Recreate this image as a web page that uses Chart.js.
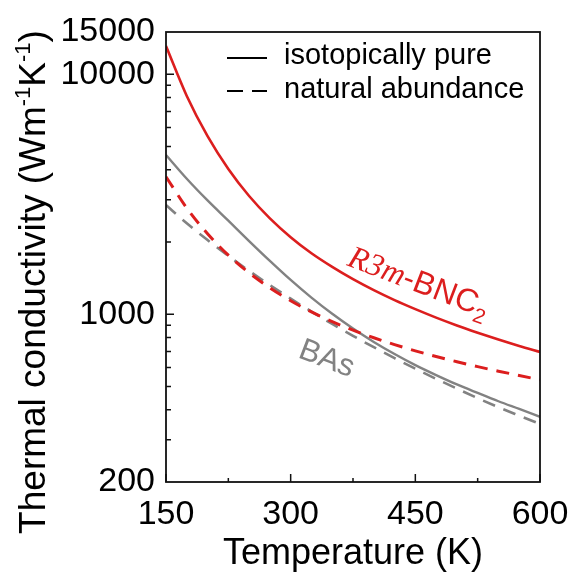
<!DOCTYPE html>
<html>
<head>
<meta charset="utf-8">
<script src="https://cdn.jsdelivr.net/npm/chart.js@4/dist/chart.umd.min.js"></script>
<style>
    html, body { margin: 0; padding: 0; background: #fff; }
    #wrap { width: 576px; height: 579px; }
</style>
</head>
<body>
<div id="wrap"><canvas id="kappaChart" width="576" height="579"></canvas></div>
<script>
// temperatures (K) and thermal conductivity (W m^-1 K^-1)
const temperatures = [150, 175, 200, 225, 250, 275, 300, 325, 350, 375, 400, 425, 450, 475, 500, 525, 550, 575, 600];
const bnc2Pure    = [13100, 8120, 5520, 4030, 3110, 2510, 2095, 1795, 1575, 1400, 1260, 1145, 1050, 968, 898, 838, 785, 738, 697];
const bnc2Natural = [3740, 2770, 2165, 1762, 1487, 1289, 1139, 1023, 932, 858, 798, 747, 704, 667, 634, 605, 579, 556, 533];
const basPure     = [4610, 3670, 2980, 2454, 2019, 1669, 1390, 1173, 1004, 872, 767, 683, 614, 558, 510, 470, 434, 403, 374];
const basNatural  = [2850, 2394, 2037, 1750, 1516, 1323, 1162, 1026, 911, 813, 729, 656, 593, 538, 490, 447, 410, 378, 349];

const xTickLabels = [150, 300, 450, 600];
const yTickLabels = [200, 1000, 10000, 15000];
const xMinorTicks = [225, 375, 525];

const RED = '#dc1e1e';
const GREY = '#828282';
const FONT = "'Liberation Sans', Arial, sans-serif";

Chart.defaults.font.family = FONT;
Chart.defaults.color = '#000';

function pairs(values) {
    return temperatures.map((t, i) => ({ x: t, y: values[i] }));
}

// frame, inward ticks, legend, labels and y title
const decorations = {
    id: 'decorations',
    afterDraw(chart) {
        const ctx = chart.ctx;
        const area = chart.chartArea;
        const xs = chart.scales.x;
        const ys = chart.scales.y;

        ctx.save();
        ctx.strokeStyle = '#111';
        ctx.lineWidth = 1.8;
        ctx.strokeRect(area.left, area.top, area.right - area.left, area.bottom - area.top);

        // y ticks: majors at decades, minors in between
        ctx.lineWidth = 1.5;
        ctx.beginPath();
        [1000, 10000].forEach(v => {
            const y = ys.getPixelForValue(v);
            ctx.moveTo(area.left, y); ctx.lineTo(area.left + 8, y);
        });
        [100, 1000].forEach(dec => {
            for (let k = 2; k <= 9; k++) {
                const v = dec * k;
                if (v <= 200) continue;
                const y = ys.getPixelForValue(v);
                ctx.moveTo(area.left, y); ctx.lineTo(area.left + 5, y);
            }
        });
        // x ticks
        xTickLabels.forEach(v => {
            const x = xs.getPixelForValue(v);
            ctx.moveTo(x, area.bottom); ctx.lineTo(x, area.bottom - 8);
        });
        xMinorTicks.forEach(v => {
            const x = xs.getPixelForValue(v);
            ctx.moveTo(x, area.bottom); ctx.lineTo(x, area.bottom - 4);
        });
        ctx.stroke();

        // legend
        ctx.strokeStyle = '#000';
        ctx.lineWidth = 2;
        ctx.beginPath();
        ctx.moveTo(227, 58); ctx.lineTo(267, 58);
        ctx.moveTo(227, 91); ctx.lineTo(243, 91);
        ctx.moveTo(252, 91); ctx.lineTo(267, 91);
        ctx.stroke();
        ctx.fillStyle = '#000';
        ctx.font = '29px ' + FONT;
        ctx.textBaseline = 'alphabetic';
        ctx.textAlign = 'left';
        ctx.fillText('isotopically pure', 284, 64);
        ctx.fillText('natural abundance', 284, 98);

        // R3m-BNC2 label
        ctx.save();
        ctx.translate(346, 265);
        ctx.rotate(21 * Math.PI / 180);
        ctx.fillStyle = RED;
        let x = 0;
        ctx.font = "italic 32px 'Liberation Serif', 'Times New Roman', serif";
        ctx.fillText('R3m', x, 0);
        x += ctx.measureText('R3m').width;
        ctx.font = '32px ' + FONT;
        ctx.fillText('-BNC', x, 0);
        x += ctx.measureText('-BNC').width;
        ctx.font = '21px ' + FONT;
        ctx.fillText('2', x, 7);
        ctx.restore();

        // BAs label
        ctx.save();
        ctx.translate(297, 357);
        ctx.rotate(21 * Math.PI / 180);
        ctx.fillStyle = GREY;
        ctx.font = '31px ' + FONT;
        ctx.fillText('BAs', 0, 0);
        ctx.restore();

        // y axis title with superscripts
        const parts = [
            ['Thermal conductivity (Wm', false],
            ['-1', true],
            ['K', false],
            ['-1', true],
            [')', false]
        ];
        const big = '37px ' + FONT;
        const small = '22px ' + FONT;
        let total = 0;
        parts.forEach(p => { ctx.font = p[1] ? small : big; total += ctx.measureText(p[0]).width; });
        ctx.save();
        ctx.translate(45, 282);
        ctx.rotate(-Math.PI / 2);
        ctx.fillStyle = '#000';
        let px = -total / 2;
        parts.forEach(p => {
            ctx.font = p[1] ? small : big;
            ctx.fillText(p[0], px, p[1] ? -15 : 0);
            px += ctx.measureText(p[0]).width;
        });
        ctx.restore();

        ctx.restore();
    }
};

new Chart(document.getElementById('kappaChart').getContext('2d'), {
    type: 'line',
    data: {
        datasets: [{
            label: 'R3m-BNC2 isotopically pure',
            data: pairs(bnc2Pure),
            borderColor: RED,
            borderWidth: 2.6
        }, {
            label: 'R3m-BNC2 natural abundance',
            data: pairs(bnc2Natural),
            borderColor: RED,
            borderWidth: 3,
            borderDash: [13, 9]
        }, {
            label: 'BAs isotopically pure',
            data: pairs(basPure),
            borderColor: GREY,
            borderWidth: 2.4
        }, {
            label: 'BAs natural abundance',
            data: pairs(basNatural),
            borderColor: GREY,
            borderWidth: 2.6,
            borderDash: [13, 9]
        }]
    },
    options: {
        responsive: false,
        animation: false,
        devicePixelRatio: 1,
        cubicInterpolationMode: 'monotone',
        elements: { point: { radius: 0 } },
        layout: { padding: { top: 32, right: 36, left: 0, bottom: 0 } },
        plugins: {
            legend: { display: false },
            tooltip: { enabled: false }
        },
        scales: {
            x: {
                type: 'linear',
                min: 150,
                max: 600,
                afterBuildTicks: s => { s.ticks = xTickLabels.map(v => ({ value: v })); },
                afterFit: s => { s.height = 97; s.paddingLeft = 0; s.paddingRight = 0; },
                grid: { display: false, drawTicks: false },
                border: { display: false },
                ticks: {
                    font: { size: 34 },
                    color: '#000',
                    padding: 12,
                    maxRotation: 0,
                    autoSkip: false
                },
                title: {
                    display: true,
                    text: 'Temperature (K)',
                    font: { size: 36 },
                    color: '#000',
                    padding: { top: 0, bottom: 3 }
                }
            },
            y: {
                type: 'logarithmic',
                min: 200,
                max: 15000,
                afterBuildTicks: s => { s.ticks = yTickLabels.map(v => ({ value: v })); },
                afterFit: s => { s.width = 166; s.paddingTop = 0; s.paddingBottom = 0; },
                grid: { display: false, drawTicks: false },
                border: { display: false },
                ticks: {
                    font: { size: 34 },
                    color: '#000',
                    padding: 11,
                    autoSkip: false,
                    callback: v => String(v)
                }
            }
        }
    },
    plugins: [decorations]
});
</script>
</body>
</html>
